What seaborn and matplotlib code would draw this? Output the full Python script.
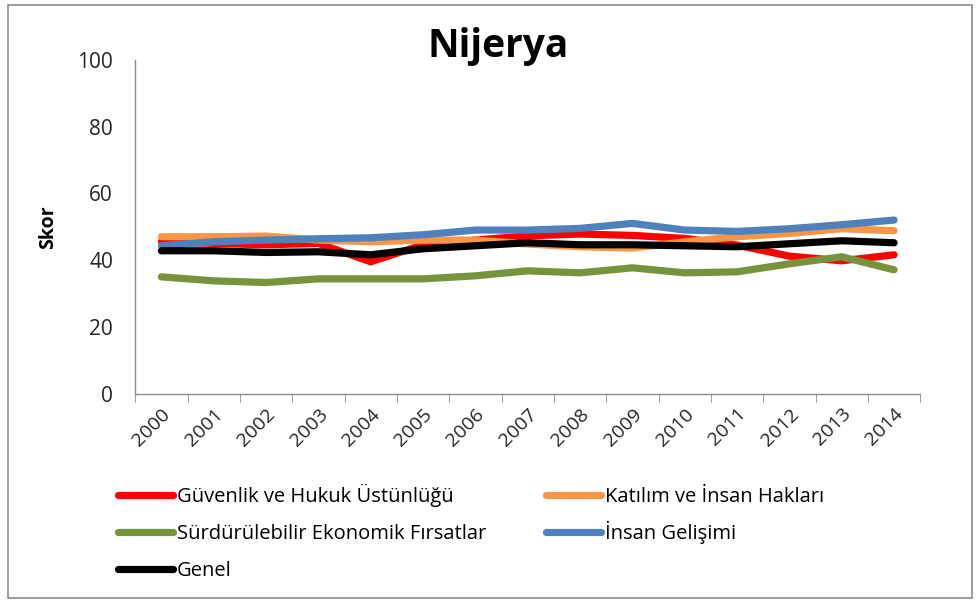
import pandas as pd
import seaborn as sns
import matplotlib.pyplot as plt
from matplotlib.patches import Rectangle
from matplotlib.lines import Line2D

# yearly scores
years = [str(y) for y in range(2000, 2015)]
guvenlik = [45.5, 45.0, 44.6, 45.0, 39.5, 44.6, 46.0, 47.3, 47.8, 47.4, 46.5, 44.5, 41.2, 39.8, 41.6]
katilim = [47.0, 47.0, 47.2, 46.0, 45.5, 46.0, 46.0, 44.8, 44.0, 43.6, 45.5, 47.0, 48.0, 49.4, 48.8]
ekonomik = [35.0, 33.8, 33.3, 34.4, 34.4, 34.4, 35.3, 36.8, 36.2, 37.7, 36.2, 36.5, 38.9, 41.0, 37.1]
insan = [44.3, 45.5, 46.0, 46.4, 46.7, 47.6, 49.0, 49.0, 49.5, 51.0, 49.0, 48.6, 49.4, 50.6, 52.0]
genel = [42.8, 42.8, 42.3, 42.5, 41.6, 43.4, 44.3, 45.2, 44.6, 44.6, 44.3, 44.0, 44.9, 45.8, 45.2]

series_names = ["Güvenlik ve Hukuk Üstünlüğü", "Katılım ve İnsan Hakları",
                "Sürdürülebilir Ekonomik Fırsatlar", "İnsan Gelişimi", "Genel"]
series_vals = [guvenlik, katilim, ekonomik, insan, genel]
colors = ["#FF0000", "#F79646", "#77933C", "#4F81BD", "#000000"]

rows = []
for name, vals in zip(series_names, series_vals):
    for i, v in enumerate(vals):
        rows.append({"pos": i, "year": years[i], "seri": name, "skor": v})
df = pd.DataFrame(rows)

sns.set_style("white")
plt.rcParams['font.family'] = ['Open Sans', 'DejaVu Sans']
plt.rcParams['text.color'] = 'black'
plt.rcParams['axes.labelcolor'] = 'black'
plt.rcParams['xtick.labelcolor'] = '#262626'
plt.rcParams['ytick.labelcolor'] = '#262626'

W, H = 980, 603
fig = plt.figure(figsize=(W / 100, H / 100), dpi=100)
fig.patches.append(Rectangle((0.008, 0.008), 0.984, 0.984, transform=fig.transFigure,
                             fill=False, edgecolor="#8c8c8c", linewidth=1.2))
ax = fig.add_axes([0.138, 0.347, 0.801, 0.554])

sns.lineplot(data=df, x="pos", y="skor", hue="seri", palette=dict(zip(series_names, colors)),
             hue_order=series_names, linewidth=5.2, ax=ax, legend=False,
             solid_capstyle="round", solid_joinstyle="round")

ax.set_xlim(-0.5, 14.5)
ax.set_ylim(0, 100)
ax.set_yticks(range(0, 101, 20))
ax.set_xticks(range(15))
ax.set_xticklabels(years, rotation=45, ha="right", rotation_mode="anchor", fontsize=14)
ax.set_xticks([i - 0.5 for i in range(16)], minor=True)
ax.tick_params(axis="x", which="major", length=0, pad=8)
ax.tick_params(axis="x", which="minor", length=6, color="#8c8c8c", direction="out", bottom=True)
ax.tick_params(axis="y", length=6, color="#8c8c8c", direction="out", labelsize=15, pad=10)
for s in ["top", "right"]:
    ax.spines[s].set_visible(False)
for s in ["left", "bottom"]:
    ax.spines[s].set_color("#8c8c8c")
    ax.spines[s].set_linewidth(1.0)
ax.set_xlabel("")
ax.set_ylabel("Skor", fontsize=14, fontweight="bold", labelpad=14)
fig.text(498 / W, 1 - 47 / H, "Nijerya", fontsize=28, fontweight="bold", ha="center", va="center")

# legend laid out by hand: two columns, three rows
legend_slots = [(118, 495), (546, 495), (118, 532), (546, 532), (118, 569)]
for (px, py), name, c in zip(legend_slots, series_names, colors):
    yf = 1 - py / H
    fig.add_artist(Line2D([px / W, (px + 55) / W], [yf, yf], transform=fig.transFigure,
                          color=c, linewidth=5.2, solid_capstyle="round"))
    fig.text((px + 59) / W, 1 - (py + 7) / H, name, fontsize=14.5, ha="left", va="baseline")

fig.savefig("out.png", dpi=100)
